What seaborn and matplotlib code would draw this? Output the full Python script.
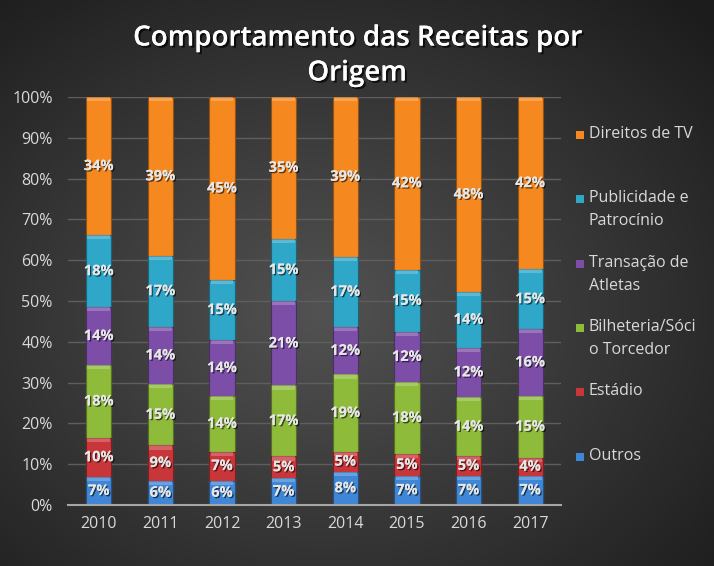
import numpy as np
import pandas as pd
import matplotlib
matplotlib.use("Agg")
import matplotlib.pyplot as plt
import matplotlib.patheffects as pe
from matplotlib.patches import Rectangle
from matplotlib.colors import to_rgb
import seaborn as sns

years = ["2010", "2011", "2012", "2013", "2014", "2015", "2016", "2017"]
series = ["Outros", "Estádio", "Bilheteria/Sócio Torcedor", "Transação de Atletas",
          "Publicidade e Patrocínio", "Direitos de TV"]
legend_labels = ["Outros", "Estádio", "Bilheteria/Sóci\no Torcedor", "Transação de\nAtletas",
                 "Publicidade e\nPatrocínio", "Direitos de TV"]
outros      = [6.9, 6.0, 6.0, 6.6, 8.2, 7.2, 7.2, 7.2]
estadio     = [9.6, 8.6, 7.1, 5.3, 4.9, 5.3, 4.8, 4.4]
bilheteria  = [17.8, 15.0, 13.6, 17.4, 18.9, 17.7, 14.4, 15.2]
transacao   = [14.2, 14.1, 13.7, 20.6, 11.6, 12.2, 12.2, 16.3]
publicidade = [17.6, 17.4, 14.8, 15.4, 17.3, 15.3, 13.6, 14.7]
direitos_tv = [33.9, 38.9, 44.8, 34.7, 39.1, 42.3, 47.8, 42.2]
colors = ["#3f86d6", "#c9363a", "#8ebb3a", "#7c4ea8", "#2ea7c9", "#f5891f"]
yticks = [0, 10, 20, 30, 40, 50, 60, 70, 80, 90, 100]

values = np.array([outros, estadio, bilheteria, transacao, publicidade, direitos_tv])
cum = np.cumsum(values, axis=0)
bottoms = cum - values

W, H = 714, 566
fig = plt.figure(figsize=(W / 100, H / 100), dpi=100)

# background radial gradient
bg = fig.add_axes([0, 0, 1, 1], zorder=-10)
yy, xx = np.mgrid[0:H, 0:W]
r = np.sqrt(((xx - W * 0.45) / (W * 0.75)) ** 2 + ((yy - H * 0.55) / (H * 0.75)) ** 2)
r = np.clip(r, 0, 1)
c0 = np.array([0x52, 0x52, 0x52]) / 255
c1 = np.array([0x1c, 0x1c, 0x1c]) / 255
img = c0[None, None, :] * (1 - r[..., None]) + c1[None, None, :] * r[..., None]
bg.imshow(img, aspect="auto", extent=[0, 1, 0, 1])
bg.set_axis_off()

ax = fig.add_axes([68 / W, 1 - 505 / H, (561 - 68) / W, (505 - 97) / H])
ax.patch.set_alpha(0)

df_rows = []
for k, s in enumerate(series):
    for i, y in enumerate(years):
        df_rows.append({"ano": y, "serie": s, "topo": cum[k, i]})
df = pd.DataFrame(df_rows)

bar_w = 0.41
# draw cumulative layers from top down so lower layers overlay upper ones
for k in range(len(series) - 1, -1, -1):
    sub = df[df["serie"] == series[k]]
    dark = tuple(np.array(to_rgb(colors[k])) * 0.6)
    sns.barplot(data=sub, x="ano", y="topo", color=colors[k], width=bar_w,
                saturation=1, ax=ax, edgecolor=dark, linewidth=0.8, zorder=3)

# bevel highlight at the top of every segment
for k in range(len(series)):
    light = tuple(np.clip(np.array(to_rgb(colors[k])) * 0.5 + 0.5, 0, 1))
    ax.bar(np.arange(len(years)), 1.0, bottom=cum[k] - 1.0, width=bar_w * 0.9,
           color=light, alpha=0.45, zorder=4, linewidth=0)

# segment labels
for k in range(len(series)):
    for i in range(len(years)):
        v = values[k, i]
        ax.text(i, bottoms[k, i] + v / 2, f"{round(v):d}%", ha="center", va="center",
                color="#e6e6e6", fontsize=10.5, fontweight="bold", family="Open Sans",
                zorder=5,
                path_effects=[pe.withSimplePatchShadow(offset=(1, -1), shadow_rgbFace="black", alpha=0.6),
                              pe.Normal()])

ax.set_ylim(0, 100)
ax.set_xlim(-0.5, len(years) - 0.5)
ax.set_yticks(yticks)
ax.set_yticklabels([f"{t}%" for t in yticks])
ax.grid(axis="y", color="#5e5e5e", linewidth=1, zorder=0)
ax.set_axisbelow(True)
for sp in ["top", "right", "left"]:
    ax.spines[sp].set_visible(False)
ax.spines["bottom"].set_color("#a6a6a6")
ax.spines["bottom"].set_linewidth(1.5)
ax.spines["bottom"].set_zorder(6)
ax.tick_params(axis="both", length=0, colors="#d9d9d9", labelsize=11.5)
ax.tick_params(axis="y", pad=11)
ax.tick_params(axis="x", pad=8)
for lab in ax.get_xticklabels() + ax.get_yticklabels():
    lab.set_family("Open Sans")
ax.set_xlabel("")
ax.set_ylabel("")

# title
title_fx = [pe.withSimplePatchShadow(offset=(1.5, -1.5), shadow_rgbFace="black", alpha=0.7), pe.Normal()]
fig.text(0.5, 1 - 38 / H, "Comportamento das Receitas por", ha="center", va="center",
         color="white", fontsize=20, fontweight=600, family="Open Sans", path_effects=title_fx)
fig.text(0.5, 1 - 73 / H, "Origem", ha="center", va="center",
         color="white", fontsize=20, fontweight=600, family="Open Sans", path_effects=title_fx)

# legend (manual, Excel-like slots)
leg_y = [456, 391, 327, 263, 198, 134]
for k in range(len(series)):
    y0 = leg_y[k]
    fig.patches.append(Rectangle((576 / W, 1 - (y0 + 5) / H), 8 / W, 8 / H,
                                 transform=fig.transFigure, facecolor=colors[k],
                                 edgecolor="none", figure=fig))
    fig.text(589 / W, 1 - (y0 - 8) / H, legend_labels[k], ha="left", va="top",
             color="#d9d9d9", fontsize=11.5, family="Open Sans", linespacing=1.55)

fig.savefig("out.png", dpi=100)
